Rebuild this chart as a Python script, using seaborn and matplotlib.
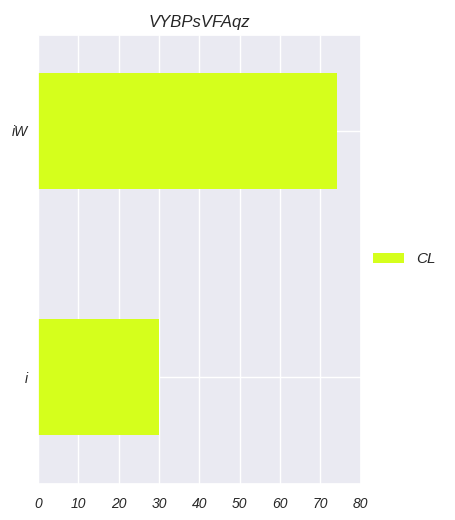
import pandas as pd
import matplotlib
matplotlib.use('Agg')
import matplotlib.pyplot as plt
import seaborn as sns

# data
categories = ['iW', 'i']
values = [74, 30]
series_name = 'CL'
title = 'VYBPsVFAqz'

sns.set_theme(style='darkgrid')
plt.rcParams['font.family'] = ['Liberation Sans', 'DejaVu Sans']
plt.rcParams['font.style'] = 'italic'

df = pd.DataFrame({'cat': categories, 'val': values, 'series': series_name})

fig = plt.figure(figsize=(4.55, 5.2), dpi=100)
ax = fig.add_axes([0.0835, 0.069, 0.7095, 0.864])
sns.barplot(data=df, y='cat', x='val', hue='series', orient='h',
            palette=['#D5FF1C'], width=0.47, saturation=1, linewidth=0, ax=ax)

ax.set_xlim(0, 80)
ax.set_ylim(1.435, -0.39)
ax.set_xticks(range(0, 81, 10))
ax.yaxis.grid(True)
ax.set_axisbelow(True)
ax.set_xlabel('')
ax.set_ylabel('')
ax.set_title(title, fontsize=12, style='italic')
ax.tick_params(labelsize=10)
ax.tick_params(axis='y', pad=1)
for lab in ax.get_xticklabels() + ax.get_yticklabels():
    lab.set_style('italic')

leg = ax.legend(loc='center left', bbox_to_anchor=(0.995, 0.5), frameon=False,
                fontsize=11)
for t in leg.get_texts():
    t.set_style('italic')

fig.savefig('out.png', dpi=100)
